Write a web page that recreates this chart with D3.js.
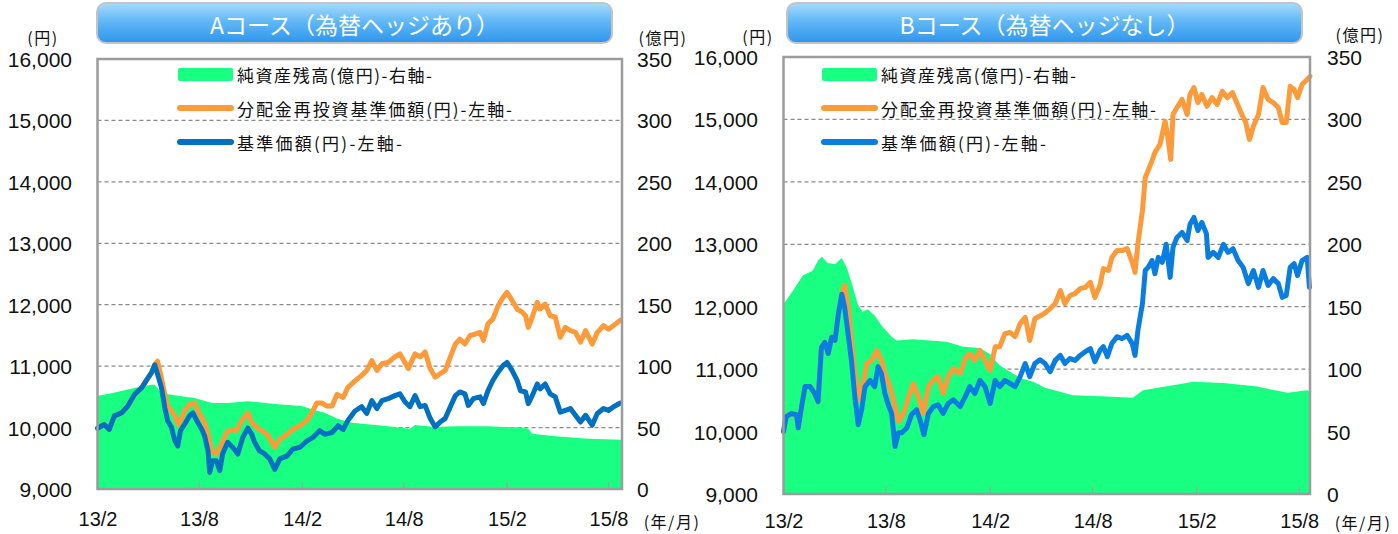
<!DOCTYPE html>
<html>
<head>
<meta charset="utf-8">
<script src="https://cdn.jsdelivr.net/npm/d3@7/dist/d3.min.js"></script>
<style>
  body { margin: 0; background: #fff; }
  .num { font-family: "Liberation Sans", Arial, sans-serif; fill: #111; }
  .jp { font-family: "Noto Sans CJK JP", sans-serif; fill: #111; }
</style>
</head>
<body>
<svg id="chart" width="1398" height="534"></svg>
<script>
// Step 0: values
//= ================================
var leftTicks = [9000, 10000, 11000, 12000, 13000, 14000, 15000, 16000];
var rightTicks = [0, 50, 100, 150, 200, 250, 300, 350];
var xTickDates = ["2013-02-01", "2013-08-01", "2014-02-01", "2014-08-01", "2015-02-01", "2015-08-01"];
var xTickLabels = ["13/2", "13/8", "14/2", "14/8", "15/2", "15/8"];
var legendLabels = ["純資産残高(億円)-右軸-", "分配金再投資基準価額(円)-左軸-", "基準価額(円)-左軸-"];
// rough widths of the legend texts in the picture
var legendWidths = [195, 275, 165];

// A course: NAV (yen)
var aNav = [
  ["2013-02-01", 9990], ["2013-02-13", 10050], ["2013-02-22", 9970], ["2013-03-03", 10190],
  ["2013-03-16", 10240], ["2013-03-27", 10350], ["2013-04-08", 10540], ["2013-04-21", 10650],
  ["2013-04-30", 10780], ["2013-05-08", 10890], ["2013-05-14", 11020], ["2013-05-19", 10870],
  ["2013-05-26", 10650], ["2013-06-01", 10320], ["2013-06-06", 10110], ["2013-06-13", 10000],
  ["2013-06-19", 9780], ["2013-06-24", 9700], ["2013-06-29", 9950], ["2013-07-06", 10050],
  ["2013-07-15", 10190], ["2013-07-21", 10240], ["2013-07-28", 10110], ["2013-08-06", 9970],
  ["2013-08-11", 9860], ["2013-08-17", 9620], ["2013-08-20", 9270], ["2013-08-25", 9460],
  ["2013-09-01", 9460], ["2013-09-07", 9300], ["2013-09-12", 9570], ["2013-09-21", 9760],
  ["2013-09-30", 9680], ["2013-10-09", 9570], ["2013-10-18", 9840], ["2013-10-27", 9990],
  ["2013-11-03", 9890], ["2013-11-08", 9760], ["2013-11-17", 9620], ["2013-11-26", 9570],
  ["2013-12-05", 9490], ["2013-12-14", 9320], ["2013-12-23", 9490], ["2014-01-05", 9540],
  ["2014-01-15", 9650], ["2014-01-28", 9680], ["2014-02-09", 9780], ["2014-02-20", 9840],
  ["2014-03-04", 9950], ["2014-03-13", 9890], ["2014-03-26", 9920], ["2014-04-06", 10030],
  ["2014-04-15", 9970], ["2014-04-23", 10110], ["2014-05-06", 10270], ["2014-05-18", 10340],
  ["2014-05-27", 10230], ["2014-06-05", 10440], ["2014-06-14", 10310], ["2014-06-23", 10440],
  ["2014-07-04", 10470], ["2014-07-16", 10520], ["2014-07-25", 10550], ["2014-08-03", 10420],
  ["2014-08-12", 10340], ["2014-08-21", 10520], ["2014-08-30", 10340], ["2014-09-08", 10360],
  ["2014-09-17", 10150], ["2014-09-26", 10010], ["2014-10-05", 10090], ["2014-10-14", 10150],
  ["2014-10-23", 10340], ["2014-11-01", 10520], ["2014-11-09", 10580], ["2014-11-18", 10550],
  ["2014-11-24", 10360], ["2014-12-03", 10470], ["2014-12-15", 10500], ["2014-12-21", 10390],
  ["2014-12-29", 10600], ["2015-01-07", 10770], ["2015-01-16", 10900], ["2015-01-25", 11010],
  ["2015-02-01", 11060], ["2015-02-10", 10930], ["2015-02-19", 10770], ["2015-02-25", 10600],
  ["2015-03-06", 10580], ["2015-03-11", 10390], ["2015-03-18", 10520], ["2015-03-27", 10710],
  ["2015-04-01", 10630], ["2015-04-10", 10710], ["2015-04-19", 10550], ["2015-04-28", 10500],
  ["2015-05-07", 10250], ["2015-05-16", 10280], ["2015-05-25", 10310], ["2015-06-03", 10200],
  ["2015-06-12", 10090], ["2015-06-21", 10200], ["2015-07-03", 10040], ["2015-07-12", 10230],
  ["2015-07-23", 10310], ["2015-08-01", 10280], ["2015-08-10", 10340], ["2015-08-22", 10400]
];

// A course: NAV with dividends reinvested (yen)
var aReinvest = [
  ["2013-02-01", 9990], ["2013-02-13", 10050], ["2013-02-22", 9970], ["2013-03-03", 10190],
  ["2013-03-16", 10240], ["2013-03-27", 10350], ["2013-04-08", 10540], ["2013-04-21", 10650],
  ["2013-04-30", 10780], ["2013-05-08", 10890], ["2013-05-14", 11020], ["2013-05-19", 11080],
  ["2013-05-26", 10810], ["2013-06-01", 10540], ["2013-06-06", 10350], ["2013-06-13", 10270],
  ["2013-06-19", 10190], ["2013-06-24", 10050], ["2013-06-29", 10110], ["2013-07-06", 10270],
  ["2013-07-15", 10380], ["2013-07-24", 10400], ["2013-08-02", 10220], ["2013-08-11", 10080],
  ["2013-08-17", 9890], ["2013-08-24", 9620], ["2013-09-01", 9570], ["2013-09-10", 9730],
  ["2013-09-19", 9920], ["2013-09-28", 9970], ["2013-10-07", 9950], ["2013-10-16", 10110],
  ["2013-10-27", 10240], ["2013-11-03", 10080], ["2013-11-12", 10000], ["2013-11-21", 9950],
  ["2013-12-02", 9870], ["2013-12-14", 9680], ["2013-12-23", 9810], ["2014-01-05", 9890],
  ["2014-01-15", 9970], ["2014-01-28", 10030], ["2014-02-09", 10110], ["2014-02-18", 10240],
  ["2014-02-27", 10400], ["2014-03-08", 10400], ["2014-03-17", 10350], ["2014-03-26", 10350],
  ["2014-04-04", 10540], ["2014-04-15", 10490], ["2014-04-23", 10650], ["2014-05-06", 10760],
  ["2014-05-18", 10850], ["2014-05-27", 10930], ["2014-06-05", 11090], ["2014-06-14", 10930],
  ["2014-06-23", 11040], ["2014-07-04", 11060], ["2014-07-16", 11150], ["2014-07-25", 11200],
  ["2014-08-03", 11060], ["2014-08-09", 10960], ["2014-08-21", 11200], ["2014-08-30", 11150],
  ["2014-09-08", 11230], ["2014-09-17", 10960], ["2014-09-26", 10820], ["2014-10-05", 10880],
  ["2014-10-14", 10930], ["2014-10-23", 11150], ["2014-11-01", 11360], ["2014-11-09", 11440],
  ["2014-11-18", 11360], ["2014-11-27", 11500], ["2014-12-06", 11520], ["2014-12-15", 11550],
  ["2014-12-21", 11420], ["2014-12-29", 11690], ["2015-01-07", 11770], ["2015-01-16", 11980],
  ["2015-01-25", 12120], ["2015-02-01", 12200], ["2015-02-10", 12070], ["2015-02-19", 11930],
  ["2015-02-28", 11880], ["2015-03-06", 11820], ["2015-03-11", 11630], ["2015-03-18", 11800],
  ["2015-03-27", 12040], ["2015-04-01", 11930], ["2015-04-10", 12010], ["2015-04-19", 11820],
  ["2015-04-28", 11800], ["2015-05-07", 11470], ["2015-05-16", 11630], ["2015-05-25", 11580],
  ["2015-06-03", 11550], ["2015-06-12", 11390], ["2015-06-21", 11580], ["2015-07-03", 11360],
  ["2015-07-12", 11550], ["2015-07-23", 11660], ["2015-08-01", 11600], ["2015-08-10", 11660],
  ["2015-08-22", 11750]
];

// A course: net assets (100 million yen)
var aAssets = [
  ["2013-02-01", 76], ["2013-02-26", 78], ["2013-03-27", 81], ["2013-04-26", 84],
  ["2013-05-14", 85], ["2013-05-26", 78], ["2013-06-24", 76], ["2013-07-24", 74],
  ["2013-08-24", 70], ["2013-09-21", 70], ["2013-10-27", 71.5], ["2013-12-19", 69],
  ["2014-01-31", 67.5], ["2014-02-18", 65], ["2014-03-13", 62], ["2014-04-06", 57],
  ["2014-05-01", 54], ["2014-05-24", 53], ["2014-07-04", 51], ["2014-08-12", 49],
  ["2014-08-21", 52], ["2014-09-26", 50.5], ["2014-11-01", 51], ["2014-12-29", 51],
  ["2015-02-28", 50], ["2015-03-11", 49], ["2015-03-18", 45], ["2015-04-28", 43],
  ["2015-06-26", 41], ["2015-08-24", 40]
];

// B course: NAV (yen)
var bNav = [
  ["2013-02-01", 10000], ["2013-02-06", 10240], ["2013-02-15", 10290], ["2013-02-24", 10270],
  ["2013-02-27", 10060], ["2013-03-05", 10400], ["2013-03-11", 10720], ["2013-03-20", 10720],
  ["2013-03-28", 10610], ["2013-04-03", 10480], ["2013-04-09", 11350], ["2013-04-15", 11430],
  ["2013-04-21", 11250], ["2013-04-27", 11510], ["2013-05-03", 11460], ["2013-05-09", 11890],
  ["2013-05-15", 12200], ["2013-05-20", 11990], ["2013-05-26", 11570], ["2013-06-01", 11140],
  ["2013-06-07", 10560], ["2013-06-13", 10110], ["2013-06-19", 10350], ["2013-06-25", 10720],
  ["2013-07-04", 10820], ["2013-07-12", 10720], ["2013-07-18", 11040], ["2013-07-24", 10930],
  ["2013-07-30", 10610], ["2013-08-05", 10430], ["2013-08-11", 10290], ["2013-08-17", 9760],
  ["2013-08-23", 9980], ["2013-08-29", 9980], ["2013-09-07", 10060], ["2013-09-15", 10270],
  ["2013-09-24", 10350], ["2013-09-30", 10190], ["2013-10-07", 9950], ["2013-10-15", 10290],
  ["2013-10-24", 10400], ["2013-11-01", 10430], ["2013-11-10", 10290], ["2013-11-19", 10450],
  ["2013-11-28", 10510], ["2013-12-10", 10400], ["2013-12-19", 10560], ["2013-12-27", 10720],
  ["2014-01-05", 10610], ["2014-01-14", 10820], ["2014-01-23", 10720], ["2014-02-01", 10450],
  ["2014-02-10", 10820], ["2014-02-18", 10720], ["2014-02-27", 10820], ["2014-03-08", 10770],
  ["2014-03-17", 10720], ["2014-03-26", 10880], ["2014-04-04", 11090], ["2014-04-12", 10880],
  ["2014-04-21", 11090], ["2014-04-30", 11150], ["2014-05-09", 11090], ["2014-05-18", 10960],
  ["2014-05-27", 11140], ["2014-06-05", 11220], ["2014-06-13", 11090], ["2014-06-22", 11170],
  ["2014-07-01", 11140], ["2014-07-10", 11220], ["2014-07-19", 11280], ["2014-07-28", 11330],
  ["2014-08-05", 11120], ["2014-08-14", 11300], ["2014-08-20", 11360], ["2014-08-27", 11200],
  ["2014-09-04", 11410], ["2014-09-13", 11520], ["2014-09-22", 11490], ["2014-10-01", 11540],
  ["2014-10-10", 11410], ["2014-10-15", 11220], ["2014-10-20", 11620], ["2014-10-28", 12050],
  ["2014-11-02", 12580], ["2014-11-07", 12630], ["2014-11-14", 12740], ["2014-11-19", 12530],
  ["2014-11-25", 12790], ["2014-12-02", 12710], ["2014-12-09", 13000], ["2014-12-16", 12470],
  ["2014-12-21", 12950], ["2014-12-28", 13110], ["2015-01-06", 13190], ["2015-01-15", 13060],
  ["2015-01-20", 13320], ["2015-01-27", 13430], ["2015-02-03", 13220], ["2015-02-10", 13350],
  ["2015-02-18", 13170], ["2015-02-21", 12790], ["2015-03-02", 12870], ["2015-03-11", 12790],
  ["2015-03-20", 13000], ["2015-03-28", 12870], ["2015-04-06", 12930], ["2015-04-15", 12740],
  ["2015-04-24", 12630], ["2015-05-03", 12370], ["2015-05-12", 12580], ["2015-05-21", 12310],
  ["2015-05-29", 12580], ["2015-06-07", 12340], ["2015-06-16", 12450], ["2015-06-25", 12370],
  ["2015-07-02", 12150], ["2015-07-09", 12180], ["2015-07-16", 12630], ["2015-07-23", 12690],
  ["2015-07-29", 12500], ["2015-08-06", 12740], ["2015-08-15", 12790], ["2015-08-19", 12310]
];

// B course: NAV with dividends reinvested (yen)
var bReinvest = [
  ["2013-02-01", 10000], ["2013-02-06", 10240], ["2013-02-15", 10290], ["2013-02-24", 10270],
  ["2013-02-27", 10060], ["2013-03-05", 10400], ["2013-03-11", 10720], ["2013-03-20", 10720],
  ["2013-03-28", 10610], ["2013-04-03", 10480], ["2013-04-09", 11350], ["2013-04-15", 11430],
  ["2013-04-21", 11250], ["2013-04-27", 11510], ["2013-05-03", 11460], ["2013-05-09", 11890],
  ["2013-05-15", 12200], ["2013-05-20", 12340], ["2013-05-26", 11990], ["2013-06-01", 11460],
  ["2013-06-07", 10930], ["2013-06-16", 10510], ["2013-06-22", 10770], ["2013-06-28", 11090],
  ["2013-07-07", 11140], ["2013-07-16", 11300], ["2013-07-24", 11140], ["2013-07-30", 10930],
  ["2013-08-08", 10720], ["2013-08-17", 10400], ["2013-08-23", 10160], ["2013-09-01", 10290],
  ["2013-09-09", 10530], ["2013-09-18", 10770], ["2013-09-27", 10560], ["2013-10-06", 10290],
  ["2013-10-15", 10720], ["2013-10-24", 10830], ["2013-11-01", 10880], ["2013-11-10", 10610],
  ["2013-11-19", 10880], ["2013-11-28", 11010], ["2013-12-10", 10930], ["2013-12-19", 11170],
  ["2013-12-27", 11250], ["2014-01-05", 11140], ["2014-01-14", 11300], ["2014-01-23", 11140],
  ["2014-02-01", 10980], ["2014-02-10", 11360], ["2014-02-18", 11360], ["2014-02-27", 11570],
  ["2014-03-08", 11590], ["2014-03-17", 11520], ["2014-03-26", 11730], ["2014-04-04", 11830],
  ["2014-04-12", 11460], ["2014-04-21", 11810], ["2014-04-30", 11850], ["2014-05-09", 11900],
  ["2014-05-18", 11970], ["2014-05-27", 12050], ["2014-06-05", 12260], ["2014-06-13", 12050],
  ["2014-06-22", 12180], ["2014-07-01", 12210], ["2014-07-10", 12290], ["2014-07-19", 12310],
  ["2014-07-28", 12390], ["2014-08-05", 12150], ["2014-08-14", 12340], ["2014-08-20", 12610],
  ["2014-08-29", 12580], ["2014-09-04", 12790], ["2014-09-13", 12900], ["2014-09-22", 12900],
  ["2014-10-01", 12930], ["2014-10-10", 12710], ["2014-10-15", 12550], ["2014-10-20", 13010],
  ["2014-10-28", 13540], ["2014-11-02", 14070], ["2014-11-07", 14180], ["2014-11-14", 14340],
  ["2014-11-19", 14470], ["2014-11-28", 14600], ["2014-12-07", 14970], ["2014-12-12", 14710],
  ["2014-12-17", 14360], ["2014-12-21", 15080], ["2014-12-28", 15190], ["2015-01-06", 15320],
  ["2015-01-15", 15080], ["2015-01-20", 15400], ["2015-01-27", 15510], ["2015-02-03", 15270],
  ["2015-02-10", 15400], ["2015-02-19", 15210], ["2015-02-28", 15350], ["2015-03-09", 15240],
  ["2015-03-18", 15450], ["2015-03-27", 15350], ["2015-04-05", 15430], ["2015-04-14", 15240],
  ["2015-04-23", 15050], ["2015-04-28", 14970], ["2015-05-05", 14680], ["2015-05-12", 14890],
  ["2015-05-21", 15080], ["2015-05-29", 15510], ["2015-06-07", 15320], ["2015-06-16", 15270],
  ["2015-06-25", 15190], ["2015-07-02", 14950], ["2015-07-09", 14950], ["2015-07-16", 15530],
  ["2015-07-23", 15480], ["2015-07-29", 15350], ["2015-08-06", 15560], ["2015-08-15", 15640],
  ["2015-08-20", 15690]
];

// B course: net assets (100 million yen)
var bAssets = [
  ["2013-02-01", 152], ["2013-02-18", 163], ["2013-03-07", 175], ["2013-03-25", 179],
  ["2013-04-03", 187], ["2013-04-10", 190], ["2013-04-20", 185], ["2013-05-03", 184],
  ["2013-05-15", 189], ["2013-05-24", 181], ["2013-06-02", 168], ["2013-06-12", 152],
  ["2013-06-21", 146], ["2013-06-30", 148], ["2013-07-12", 143], ["2013-07-26", 134],
  ["2013-08-11", 126], ["2013-08-20", 123], ["2013-09-17", 124], ["2013-10-17", 123],
  ["2013-11-16", 122], ["2013-12-15", 118], ["2014-01-14", 117], ["2014-02-01", 112],
  ["2014-02-18", 103], ["2014-03-08", 98], ["2014-03-26", 93], ["2014-04-18", 90],
  ["2014-05-09", 85], ["2014-06-27", 79], ["2014-08-27", 78], ["2014-10-11", 77],
  ["2014-10-29", 83], ["2014-12-21", 87], ["2015-01-26", 90], ["2015-03-20", 89],
  ["2015-05-19", 86], ["2015-07-11", 81], ["2015-08-15", 83], ["2015-08-20", 82]
];

var panels = [
  {
    title: "Aコース（為替ヘッジあり）",
    nav: aNav, reinvest: aReinvest, assets: aAssets,
    end: "2015-08-25", navColor: "#0070c0",
    box: { x: 97, y: 3, w: 515, h: 40 },
    plot: { left: 97.5, right: 622, top: 59, bottom: 489 },
    leftLabelX: 72, rightLabelX: 637, xLabelY: 519,
    yenUnit: [43, 37], okuUnit: [663, 37], ymUnit: [672, 521],
    legendX: 178, legendY: [74, 108, 142]
  },
  {
    title: "Bコース（為替ヘッジなし）",
    nav: bNav, reinvest: bReinvest, assets: bAssets,
    end: "2015-08-20", navColor: "#0a7ee0",
    box: { x: 787, y: 3, w: 515, h: 40 },
    plot: { left: 783.5, right: 1310, top: 57, bottom: 494 },
    leftLabelX: 758, rightLabelX: 1327, xLabelY: 521,
    yenUnit: [758, 36], okuUnit: [1360, 34], ymUnit: [1363, 522],
    legendX: 822, legendY: [74, 108, 142]
  }
];

var parseDate = d3.timeParse("%Y-%m-%d");
var svg = d3.select("#chart");

svg.append("rect").attr("width", 1398).attr("height", 534).attr("fill", "#fff");

// gradient for the title boxes
var grad = svg.append("defs").append("linearGradient")
  .attr("id", "titleGrad").attr("x1", 0).attr("y1", 0).attr("x2", 0).attr("y2", 1);
grad.append("stop").attr("offset", "0%").attr("stop-color", "#a6dcfc");
grad.append("stop").attr("offset", "45%").attr("stop-color", "#62b8f6");
grad.append("stop").attr("offset", "100%").attr("stop-color", "#2d95ee");

function drawPanel(p) {
  var g = svg.append("g");
  var pl = p.plot;

  var x = d3.scaleTime()
    .domain([parseDate("2013-02-01"), parseDate(p.end)])
    .range([pl.left, pl.right]);
  var yLeft = d3.scaleLinear().domain([9000, 16000]).range([pl.bottom, pl.top]);
  var yRight = d3.scaleLinear().domain([0, 350]).range([pl.bottom, pl.top]);

  // title box
  g.append("rect")
    .attr("x", p.box.x).attr("y", p.box.y)
    .attr("width", p.box.w).attr("height", p.box.h)
    .attr("rx", 9).attr("ry", 9)
    .attr("fill", "url(#titleGrad)")
    .attr("stroke", "#c4c4c4").attr("stroke-width", 2);
  g.append("text")
    .attr("class", "jp")
    .attr("x", p.box.x + p.box.w / 2).attr("y", p.box.y + p.box.h / 2 + 1)
    .attr("text-anchor", "middle").attr("dominant-baseline", "central")
    .style("fill", "#fff").style("font-size", "23px")
    .text(p.title);

  // dashed gridlines (behind the area)
  g.selectAll(".grid")
    .data(leftTicks.filter(function(t) { return t > 9000 && t < 16000; }))
    .enter().append("line")
    .attr("x1", pl.left).attr("x2", pl.right)
    .attr("y1", function(d) { return yLeft(d); })
    .attr("y2", function(d) { return yLeft(d); })
    .attr("stroke", "#8a8a8a").attr("stroke-width", 1.3)
    .attr("stroke-dasharray", "4,3");

  // net assets area (right axis)
  var area = d3.area()
    .x(function(d) { return x(parseDate(d[0])); })
    .y0(pl.bottom)
    .y1(function(d) { return yRight(d[1]); });
  g.append("path").datum(p.assets)
    .attr("d", area).attr("fill", "#18ff82");

  var line = d3.line()
    .x(function(d) { return x(parseDate(d[0])); })
    .y(function(d) { return yLeft(d[1]); });

  g.append("path").datum(p.reinvest)
    .attr("d", line).attr("fill", "none")
    .attr("stroke", "#fd9a3a").attr("stroke-width", 5)
    .attr("stroke-linejoin", "round").attr("stroke-linecap", "round");

  g.append("path").datum(p.nav)
    .attr("d", line).attr("fill", "none")
    .attr("stroke", p.navColor).attr("stroke-width", 5)
    .attr("stroke-linejoin", "round").attr("stroke-linecap", "round");

  // small tick marks at the bottom of the plot
  g.selectAll(".xtick")
    .data(xTickDates)
    .enter().append("line")
    .attr("x1", function(d) { return x(parseDate(d)); })
    .attr("x2", function(d) { return x(parseDate(d)); })
    .attr("y1", pl.bottom).attr("y2", pl.bottom - 7)
    .attr("stroke", "#a0a0a0").attr("stroke-width", 1.2);

  // plot frame
  g.append("rect")
    .attr("x", pl.left).attr("y", pl.top)
    .attr("width", pl.right - pl.left).attr("height", pl.bottom - pl.top)
    .attr("fill", "none").attr("stroke", "#9c9c9c").attr("stroke-width", 2.5);

  // left axis labels
  var leftAxis = d3.axisLeft(yLeft).tickValues(leftTicks)
    .tickFormat(d3.format(",")).tickSize(0).tickPadding(0);
  var la = g.append("g").attr("transform", "translate(" + p.leftLabelX + ",0)").call(leftAxis);
  la.select(".domain").remove();
  la.selectAll("text").attr("class", "num").attr("dy", "0.36em")
    .style("font-size", "21px").attr("font-family", null);

  // right axis labels
  var rightAxis = d3.axisRight(yRight).tickValues(rightTicks).tickSize(0).tickPadding(0);
  var ra = g.append("g").attr("transform", "translate(" + p.rightLabelX + ",0)").call(rightAxis);
  ra.select(".domain").remove();
  ra.selectAll("text").attr("class", "num").attr("dy", "0.36em")
    .style("font-size", "21px").attr("font-family", null);

  // x labels
  var bottomAxis = d3.axisBottom(x).tickValues(xTickDates.map(parseDate))
    .tickFormat(function(d, i) { return xTickLabels[i]; }).tickSize(0).tickPadding(0);
  var ba = g.append("g").attr("transform", "translate(0," + p.xLabelY + ")").call(bottomAxis);
  ba.select(".domain").remove();
  ba.selectAll("text").attr("class", "num").attr("y", 0).attr("dy", "0.35em")
    .style("font-size", "20px").attr("font-family", null);

  // unit labels
  var units = [["(円)", p.yenUnit], ["(億円)", p.okuUnit], ["(年/月)", p.ymUnit]];
  g.selectAll(".unit").data(units).enter().append("text")
    .attr("class", "jp")
    .attr("x", function(d) { return d[1][0]; })
    .attr("y", function(d) { return d[1][1]; })
    .attr("text-anchor", "middle").attr("dominant-baseline", "central")
    .style("font-size", "16px").style("letter-spacing", "1.5px")
    .text(function(d) { return d[0]; });

  // legend
  var colors = ["#18ff82", "#fd9a3a", p.navColor];
  var lg = g.selectAll(".legend").data(legendLabels).enter().append("g")
    .attr("transform", function(d, i) { return "translate(" + p.legendX + "," + p.legendY[i] + ")"; });
  lg.each(function(d, i) {
    var item = d3.select(this);
    if (i === 0) {
      item.append("rect").attr("x", 0).attr("y", -6).attr("width", 55).attr("height", 13)
        .attr("rx", 2).attr("fill", colors[i]);
    } else {
      item.append("line").attr("x1", 2).attr("x2", 53).attr("y1", 0).attr("y2", 0)
        .attr("stroke", colors[i]).attr("stroke-width", 6).attr("stroke-linecap", "round");
    }
  });
  lg.append("text").attr("class", "jp")
    .attr("x", 59).attr("y", 0).attr("dominant-baseline", "central")
    .attr("textLength", function(d, i) { return legendWidths[i]; })
    .attr("lengthAdjust", "spacing")
    .style("font-size", "17px")
    .text(function(d) { return d; });
}

panels.forEach(drawPanel);
</script>
</body>
</html>
